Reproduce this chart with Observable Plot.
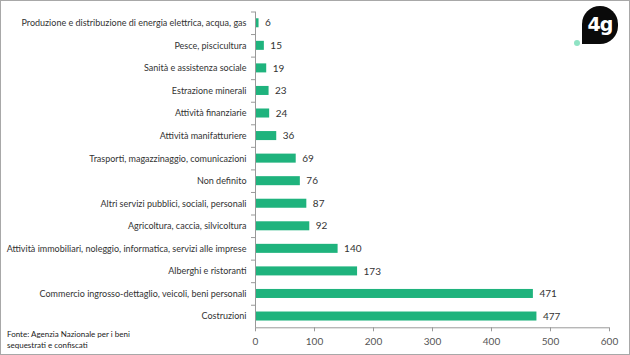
<!DOCTYPE html>
<html><head><meta charset="utf-8">
<script src="https://cdn.jsdelivr.net/npm/d3@7"></script>
<script src="https://cdn.jsdelivr.net/npm/@observablehq/plot@0.6"></script>
<style>
html,body{margin:0;padding:0;background:#fff;}
#wrap{position:relative;width:630px;height:355px;overflow:hidden;}
#border{position:absolute;left:0;top:0;width:630px;height:355px;box-sizing:border-box;border:1px solid #a8a8a8;pointer-events:none;}
#caption{position:absolute;left:7px;top:329px;font-family:Lato,sans-serif;font-size:8px;line-height:11px;color:#222;}
#logo{position:absolute;left:582px;top:6px;width:36px;height:38px;background:#0a0a0a;border-radius:18px 18px 18px 0;color:#fff;font-family:"DejaVu Sans",sans-serif;font-weight:bold;font-size:19px;line-height:36px;text-align:center;letter-spacing:-1px;}
#dot{position:absolute;left:574px;top:40px;width:6px;height:6px;border-radius:3px;background:#8fe3c4;}
</style></head>
<body><div id="wrap"><div id="chart"></div>
<div id="caption">Fonte: Agenzia Nazionale per i beni<br>sequestrati e confiscati</div>
<div id="logo">4g</div><div id="dot"></div>
<div id="border"></div></div>
<script>
const categories = [
  "Produzione e distribuzione di energia elettrica, acqua, gas",
  "Pesce, piscicultura",
  "Sanità e assistenza sociale",
  "Estrazione minerali",
  "Attività finanziarie",
  "Attività manifatturiere",
  "Trasporti, magazzinaggio, comunicazioni",
  "Non definito",
  "Altri servizi pubblici, sociali, personali",
  "Agricoltura, caccia, silvicoltura",
  "Attività immobiliari, noleggio, informatica, servizi alle imprese",
  "Alberghi e ristoranti",
  "Commercio ingrosso-dettaglio, veicoli, beni personali",
  "Costruzioni"
];
const values = [6, 15, 19, 23, 24, 36, 69, 76, 87, 92, 140, 173, 471, 477];
const xTicks = [0, 100, 200, 300, 400, 500, 600];

const data = categories.map((c, i) => ({category: c, value: values[i]}));
const H = 355, mt = 11.5, mb = 27.7;
const step = (H - mt - mb) / categories.length;

const chart = Plot.plot({
  width: 630, height: H,
  marginLeft: 255, marginRight: 21, marginTop: mt, marginBottom: mb,
  style: {fontFamily: "Lato, sans-serif", fontSize: "9px", color: "#333", background: "transparent"},
  x: {domain: [0, 600]},
  y: {domain: categories, paddingInner: 0.6, paddingOuter: 0.3, round: false, label: null},
  marks: [
    Plot.barX(data, {x: "value", y: "category", fill: "#1fb37d"}),
    Plot.text(data, {x: "value", y: "category", text: d => String(d.value), textAnchor: "start", dx: 6, fill: "#333", fontSize: 10}),
    Plot.axisY({tickSize: 0, tickPadding: 9, fill: "#333", label: null}),
    Plot.axisY({tickSize: 4, tickFormat: () => "", dy: -step / 2, stroke: "#999", label: null}),
    Plot.ruleX([0], {stroke: "#999"}),
    Plot.ruleY([categories[categories.length - 1]], {x1: 0, x2: 600, dy: step / 2, stroke: "#999"}),
    Plot.axisX({ticks: xTicks, tickSize: 4, tickPadding: 6, stroke: "#999", fill: "#555", label: null, fontSize: 10})
  ]
});
document.getElementById("chart").appendChild(chart);
</script></body></html>
